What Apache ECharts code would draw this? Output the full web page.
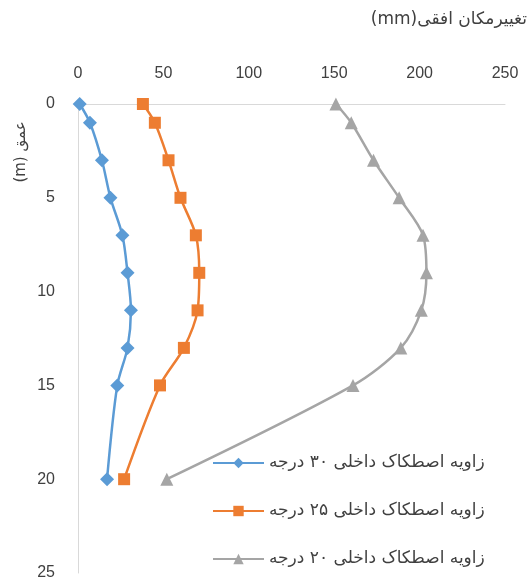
<!DOCTYPE html>
<html>
<head>
<meta charset="utf-8">
<script src="https://cdn.jsdelivr.net/npm/echarts@6/dist/echarts.min.js"></script>
<style>html,body{margin:0;padding:0;background:#fff}#c{width:530px;height:585px}</style>
</head>
<body>
<div id="c"></div>
<script>
const depths = [0, 1, 3, 5, 7, 9, 11, 13, 15, 20];
const phi30 = [1, 7, 14, 19, 26, 29, 31, 29, 23, 17];
const phi25 = [38, 45, 53, 60, 69, 71, 70, 62, 48, 27];
const phi20 = [151, 160, 173, 188, 202, 204, 201, 189, 161, 52];
const seriesNames = ['زاویه اصطکاک داخلی ۳۰ درجه', 'زاویه اصطکاک داخلی ۲۵ درجه', 'زاویه اصطکاک داخلی ۲۰ درجه'];
const xTitle = 'تغییرمکان افقی(mm)';
const yTitle = 'عمق (m)';
const rtl = s => '\u202B' + s + '\u202C';

const chart = echarts.init(document.getElementById('c'), null, {renderer: 'canvas'});
const pairs = arr => arr.map((v, i) => [v, depths[i]]);
const colors = ['#5B9BD5', '#ED7D31', '#A5A5A5'];
const symbols = ['diamond', 'rect', 'triangle'];
const sizes = [14, 12, 13];
const vals = [phi30, phi25, phi20];

chart.setOption({
  animation: false,
  textStyle: {fontFamily: 'DejaVu Sans'},
  grid: {left: 78, right: 25, top: 104, bottom: 12, containLabel: false},
  xAxis: {
    type: 'value', position: 'top', min: 0, max: 250, interval: 50,
    axisLine: {show: true, lineStyle: {color: '#D9D9D9', width: 1}},
    axisTick: {show: false},
    splitLine: {show: false},
    axisLabel: {margin: 22, fontSize: 16, color: '#404040', fontFamily: 'Liberation Sans'}
  },
  yAxis: {
    type: 'value', inverse: true, min: 0, max: 25, interval: 5,
    axisLine: {show: true, lineStyle: {color: '#D9D9D9', width: 1}},
    axisTick: {show: false},
    splitLine: {show: false},
    axisLabel: {margin: 23, fontSize: 16, color: '#404040', fontFamily: 'Liberation Sans'}
  },
  legend: {
    orient: 'vertical', left: 212, top: 453, padding: 0, itemWidth: 51, itemHeight: 13, itemGap: 28,
    textStyle: {fontSize: 17, lineHeight: 20, color: '#404040', fontFamily: 'DejaVu Sans'},
    data: seriesNames
  },
  graphic: [
    {type: 'text', right: 3, top: 11, style: {text: rtl(xTitle), fontSize: 17, fill: '#404040', fontFamily: 'DejaVu Sans'}},
    {type: 'text', x: 21, y: 152, rotation: Math.PI / 2, style: {text: rtl(yTitle), fontSize: 15, fill: '#404040', fontFamily: 'DejaVu Sans', align: 'center', verticalAlign: 'middle'}}
  ],
  series: vals.map((v, k) => ({
    name: seriesNames[k], type: 'line', data: pairs(v), smooth: 0.3,
    symbol: symbols[k], symbolSize: sizes[k],
    lineStyle: {color: colors[k], width: 2.5},
    itemStyle: {color: colors[k]}
  }))
});
</script>
</body>
</html>
